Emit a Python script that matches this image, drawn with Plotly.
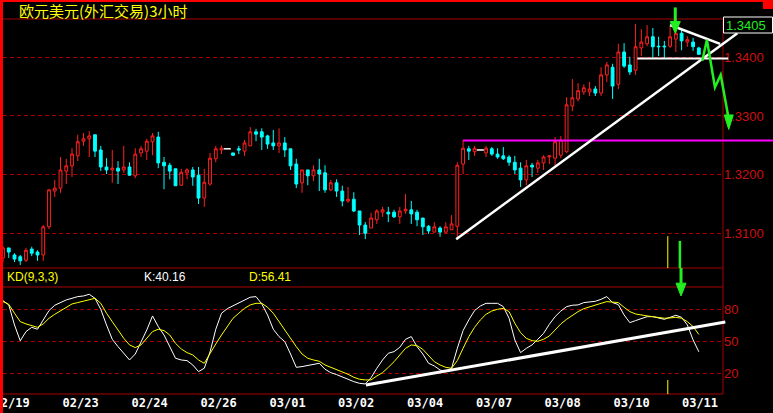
import plotly.graph_objects as go

W, H = 773, 413

# ---------------- data ----------------
date_labels = ["02/19", "02/23", "02/24", "02/26", "03/01", "03/02",
               "03/04", "03/07", "03/08", "03/10", "03/11"]
date_label_pos = [1.5, 13.5, 25.5, 37.5, 49.5, 61.4, 73.4, 85.4, 97.3, 109.3, 121.2]

open_ = [1.3058, 1.3075, 1.3063, 1.3060, 1.3054, 1.3073, 1.3068, 1.3063, 1.3111, 1.3172,
         1.3177, 1.3206, 1.3215, 1.3232, 1.3257, 1.3261, 1.3268, 1.3242, 1.3213, 1.3208,
         1.3211, 1.3208, 1.3213, 1.3198, 1.3237, 1.3240, 1.3256, 1.3264, 1.3221, 1.3216,
         1.3210, 1.3182, 1.3203, 1.3208, 1.3199, 1.3160, 1.3184, 1.3227, 1.3242, 1.3244,
         1.3237, 1.3244, 1.3240, 1.3249, 1.3273, 1.3273, 1.3266, 1.3254, 1.3249, 1.3254,
         1.3244, 1.3218, 1.3186, 1.3208, 1.3198, 1.3208, 1.3203, 1.3174, 1.3186, 1.3172,
         1.3155, 1.3158, 1.3138, 1.3114, 1.3109, 1.3123, 1.3136, 1.3136, 1.3136, 1.3128,
         1.3138, 1.3140, 1.3136, 1.3126, 1.3112, 1.3102, 1.3109, 1.3102, 1.3106, 1.3112,
         1.3218, 1.3244, 1.3239, 1.3242, 1.3237, 1.3244, 1.3235, 1.3232, 1.3230, 1.3221,
         1.3211, 1.3191, 1.3216, 1.3211, 1.3220, 1.3230, 1.3228, 1.3233, 1.3239, 1.3317,
         1.3329, 1.3341, 1.3341, 1.3346, 1.3339, 1.3370, 1.3383, 1.3354, 1.3409, 1.3387,
         1.3378, 1.3416, 1.3423, 1.3435, 1.3419, 1.3419, 1.3419, 1.3431, 1.3441, 1.3426,
         1.3426, 1.3416]
high = [1.3078, 1.3075, 1.3066, 1.3063, 1.3075, 1.3077, 1.3071, 1.3114, 1.3175, 1.3191,
        1.3230, 1.3227, 1.3245, 1.3268, 1.3271, 1.3274, 1.3268, 1.3249, 1.3228, 1.3242,
        1.3223, 1.3249, 1.3221, 1.3245, 1.3249, 1.3261, 1.3271, 1.3273, 1.3230, 1.3220,
        1.3210, 1.3210, 1.3211, 1.3213, 1.3213, 1.3210, 1.3237, 1.3249, 1.3250, 1.3245,
        1.3237, 1.3249, 1.3259, 1.3281, 1.3278, 1.3279, 1.3268, 1.3276, 1.3279, 1.3264,
        1.3244, 1.3227, 1.3208, 1.3208, 1.3216, 1.3227, 1.3216, 1.3191, 1.3192, 1.3181,
        1.3179, 1.3170, 1.3138, 1.3119, 1.3135, 1.3141, 1.3145, 1.3145, 1.3140, 1.3145,
        1.3167, 1.3155, 1.3140, 1.3126, 1.3114, 1.3119, 1.3112, 1.3119, 1.3131, 1.3221,
        1.3259, 1.3249, 1.3249, 1.3242, 1.3249, 1.3247, 1.3245, 1.3247, 1.3233, 1.3232,
        1.3221, 1.3225, 1.3220, 1.3225, 1.3233, 1.3233, 1.3264, 1.3266, 1.3332, 1.3363,
        1.3356, 1.3354, 1.3358, 1.3351, 1.3383, 1.3392, 1.3389, 1.3423, 1.3424, 1.3401,
        1.3457, 1.3448, 1.3455, 1.3450, 1.3435, 1.3428, 1.3453, 1.3458, 1.3448, 1.3436,
        1.3433, 1.3418]
low = [1.3051, 1.3058, 1.3051, 1.3046, 1.3051, 1.3061, 1.3053, 1.3053, 1.3107, 1.3162,
       1.3169, 1.3184, 1.3196, 1.3223, 1.3249, 1.3230, 1.3230, 1.3206, 1.3201, 1.3186,
       1.3184, 1.3203, 1.3198, 1.3194, 1.3230, 1.3225, 1.3233, 1.3211, 1.3175, 1.3192,
       1.3181, 1.3181, 1.3192, 1.3181, 1.3150, 1.3145, 1.3181, 1.3221, 1.3235, 1.3242,
       1.3232, 1.3235, 1.3232, 1.3249, 1.3257, 1.3242, 1.3244, 1.3242, 1.3237, 1.3230,
       1.3208, 1.3177, 1.3169, 1.3182, 1.3189, 1.3172, 1.3169, 1.3172, 1.3162, 1.3146,
       1.3152, 1.3136, 1.3097, 1.3090, 1.3109, 1.3116, 1.3128, 1.3119, 1.3126, 1.3116,
       1.3133, 1.3116, 1.3112, 1.3097, 1.3099, 1.3102, 1.3094, 1.3100, 1.3106, 1.3090,
       1.3201, 1.3225, 1.3232, 1.3242, 1.3230, 1.3232, 1.3227, 1.3225, 1.3215, 1.3201,
       1.3179, 1.3182, 1.3196, 1.3203, 1.3208, 1.3218, 1.3215, 1.3228, 1.3237, 1.3308,
       1.3325, 1.3336, 1.3334, 1.3334, 1.3334, 1.3358, 1.3329, 1.3346, 1.3382, 1.3370,
       1.3370, 1.3402, 1.3419, 1.3399, 1.3402, 1.3399, 1.3416, 1.3409, 1.3412, 1.3418,
       1.3411, 1.3404]
close = [1.3075, 1.3068, 1.3056, 1.3053, 1.3071, 1.3066, 1.3063, 1.3111, 1.3174, 1.3177,
         1.3208, 1.3215, 1.3235, 1.3256, 1.3261, 1.3266, 1.3240, 1.3213, 1.3208, 1.3211,
         1.3206, 1.3213, 1.3199, 1.3235, 1.3244, 1.3257, 1.3266, 1.3220, 1.3215, 1.3206,
         1.3181, 1.3204, 1.3208, 1.3196, 1.3160, 1.3187, 1.3228, 1.3244, 1.3245, 1.3244,
         1.3233, 1.3242, 1.3254, 1.3273, 1.3269, 1.3264, 1.3252, 1.3249, 1.3254, 1.3242,
         1.3215, 1.3184, 1.3208, 1.3198, 1.3208, 1.3201, 1.3174, 1.3186, 1.3172, 1.3155,
         1.3158, 1.3138, 1.3114, 1.3100, 1.3126, 1.3138, 1.3140, 1.3133, 1.3128, 1.3138,
         1.3141, 1.3133, 1.3123, 1.3111, 1.3104, 1.3111, 1.3102, 1.3111, 1.3116, 1.3216,
         1.3245, 1.3240, 1.3245, 1.3242, 1.3245, 1.3235, 1.3230, 1.3227, 1.3221, 1.3208,
         1.3191, 1.3215, 1.3213, 1.3220, 1.3230, 1.3232, 1.3256, 1.3259, 1.3319, 1.3331,
         1.3343, 1.3348, 1.3346, 1.3339, 1.3370, 1.3387, 1.3351, 1.3409, 1.3385, 1.3375,
         1.3418, 1.3426, 1.3435, 1.3418, 1.3418, 1.3418, 1.3435, 1.3441, 1.3428, 1.3430,
         1.3418, 1.3405]

k_values = [88.1, 84.1, 65.3, 50.5, 59.1, 63.1, 61.3, 70.6, 78.8, 83.8,
            86.3, 88.8, 90.3, 91.9, 92.5, 94.1, 90.3, 80.0, 65.3, 51.9,
            45.0, 38.8, 32.5, 38.1, 48.8, 60.6, 73.8, 63.8, 55.9, 45.0,
            34.1, 32.5, 31.9, 27.8, 21.6, 24.7, 40.0, 61.3, 76.3, 80.6,
            83.1, 85.6, 88.8, 91.3, 91.9, 85.0, 74.7, 61.3, 54.4, 49.7,
            38.1, 25.6, 26.3, 27.2, 28.8, 29.4, 23.8, 20.6, 18.8, 16.9,
            14.4, 12.2, 10.6, 10.0, 15.9, 24.7, 32.5, 38.8, 40.3, 44.4,
            51.9, 54.4, 45.0, 38.1, 29.4, 26.9, 23.1, 21.6, 24.7, 43.4,
            60.0, 70.0, 78.8, 83.1, 85.6, 85.6, 85.6, 82.5, 71.6, 51.3,
            39.4, 43.4, 46.6, 51.9, 57.5, 65.9, 73.1, 78.4, 82.5, 83.8,
            84.1, 86.3, 87.2, 87.5, 89.4, 91.9, 86.3, 84.4, 74.7, 67.5,
            69.4, 71.6, 73.1, 73.1, 71.9, 70.6, 72.5, 74.4, 72.5, 65.3,
            51.3, 40.16]
d_values = [87.2, 84.7, 76.3, 68.4, 66.3, 64.7, 63.1, 66.3, 71.6, 75.3,
            78.8, 81.9, 85.0, 86.3, 87.5, 89.4, 90.3, 85.6, 76.3, 68.4,
            60.0, 52.8, 46.6, 44.1, 46.6, 52.8, 59.1, 61.3, 60.0, 55.9,
            48.1, 42.8, 39.4, 37.2, 32.5, 29.4, 38.8, 47.5, 55.9, 64.4,
            71.6, 76.3, 80.9, 84.1, 85.6, 85.6, 81.9, 76.3, 68.4, 60.6,
            52.8, 45.0, 38.1, 34.1, 32.5, 31.3, 27.8, 25.6, 23.8, 21.6,
            19.1, 16.3, 14.4, 13.8, 13.8, 17.5, 20.6, 25.6, 30.9, 37.2,
            43.4, 46.6, 45.9, 42.5, 36.3, 30.9, 27.8, 25.6, 24.7, 31.9,
            43.4, 54.4, 63.1, 70.0, 75.3, 78.4, 80.0, 80.9, 77.8, 66.9,
            58.1, 52.8, 50.6, 50.0, 51.9, 55.0, 60.6, 66.3, 70.6, 74.4,
            77.8, 80.6, 82.5, 83.8, 85.6, 87.2, 86.9, 86.3, 81.9, 77.8,
            75.6, 74.4, 73.8, 73.1, 72.5, 71.6, 71.9, 72.5, 71.6, 68.4,
            63.8, 56.41]

price_ticks = [1.31, 1.32, 1.33, 1.34]
price_tick_text = ["1.3100", "1.3200", "1.3300", "1.3400"]
kd_ticks = [20, 50, 80]
kd_tick_text = ["20", "50", "80"]

title_text = "欧元美元(外汇交易)3小时"
kd_label = "KD(9,3,3)"
k_label = "K:40.16"
d_label = "D:56.41"
last_price_text = "1.3405"

# hand-drawn analysis lines (bar index, value)
trend_up = ([78.8, 127.7], [1.3090, 1.3441])
support_line = ([110.3, 126.1], [1.3398, 1.3398])
trend_down = ([116.0, 124.7], [1.3455, 1.3423])
magenta_line = ([80.0, 134.5], [1.3258, 1.3258])
zigzag = ([121.6, 122.4, 123.8, 124.8, 126.1], [1.3394, 1.3430, 1.3349, 1.3370, 1.3300])
zigzag_tip = (126.2, 1.3277)
top_arrow = ([116.9, 116.9], [1.3485, 1.3461])
top_arrow_tip = (116.9, 1.3441)
kd_arrow = ([117.9, 117.9], [118.7, 104.5])
kd_arrow_tip = (117.9, 92.5)
kd_trend = ([63.1, 125.6], [9.0, 68.1])
marker_yellow = (115.6, [1.3095, 13.7])
marker_green = (117.7, 1.3087)

# ---------------- geometry ----------------
PX_L, PX_R = 3, 723
P_TOP, P_BOT = 19, 268
K_TOP, K_BOT = 287, 394
XR = [0, 125.2]
PR = [1.30408, 1.34653]
KR = [0.6, 100.9]

def px_x(i):
    return PX_L + (i - XR[0]) / (XR[1] - XR[0]) * (PX_R - PX_L)

def py_p(p):
    return P_BOT - (p - PR[0]) / (PR[1] - PR[0]) * (P_BOT - P_TOP)

def py_k(v):
    return K_BOT - (v - KR[0]) / (KR[1] - KR[0]) * (K_BOT - K_TOP)

def fx(px):
    return px / W

def fy(py):
    return 1 - py / H

RED = "#ff2020"
CYAN = "#00ffff"
DKRED = "#a80000"
GREEN = "#22ee22"
YELLOW = "#ffff00"

fig = go.Figure()

idx = list(range(len(close)))
normal = [i for i in idx if open_[i] != close[i]]
doji = [i for i in idx if open_[i] == close[i]]

fig.add_trace(go.Candlestick(
    x=normal,
    open=[open_[i] for i in normal], high=[high[i] for i in normal],
    low=[low[i] for i in normal], close=[close[i] for i in normal],
    increasing=dict(line=dict(color=RED, width=1), fillcolor="#000000"),
    decreasing=dict(line=dict(color=CYAN, width=1), fillcolor=CYAN),
    whiskerwidth=0, hoverinfo="skip", xaxis="x", yaxis="y", showlegend=False))

fig.add_trace(go.Scatter(
    x=doji, y=[close[i] for i in doji], mode="markers",
    marker=dict(symbol="line-ew", size=5, line=dict(color="white", width=1.5)),
    hoverinfo="skip", xaxis="x", yaxis="y", showlegend=False))

fig.add_trace(go.Scatter(x=idx, y=k_values, mode="lines",
                         line=dict(color="white", width=1),
                         hoverinfo="skip", xaxis="x2", yaxis="y2", showlegend=False))
fig.add_trace(go.Scatter(x=idx, y=d_values, mode="lines",
                         line=dict(color=YELLOW, width=1),
                         hoverinfo="skip", xaxis="x2", yaxis="y2", showlegend=False))

shapes = []

def pline(x0, y0, x1, y1, color, width):
    shapes.append(dict(type="line", xref="paper", yref="paper",
                       x0=fx(x0), y0=fy(y0), x1=fx(x1), y1=fy(y1),
                       line=dict(color=color, width=width)))

def ppath(points, color, width, fill=None):
    d = "M " + " L ".join(f"{fx(a):.5f},{fy(b):.5f}" for a, b in points)
    s = dict(type="path", xref="paper", yref="paper", path=d + (" Z" if fill else ""),
             line=dict(color=color, width=width))
    if fill:
        s["fillcolor"] = fill
    shapes.append(s)

# frame
pline(PX_L, P_TOP, PX_R, P_TOP, DKRED, 1)
pline(PX_L, P_BOT, PX_R, P_BOT, DKRED, 1)
pline(PX_L, K_TOP, PX_R, K_TOP, DKRED, 1)
pline(PX_L, K_BOT, PX_R, K_BOT, DKRED, 1)
pline(PX_R, P_TOP, PX_R, K_BOT, DKRED, 1)

# markers
mx = px_x(marker_yellow[0])
pline(mx, py_p(marker_yellow[1][0]), mx, P_BOT, YELLOW, 1)
pline(mx, py_k(marker_yellow[1][1]), mx, K_BOT, YELLOW, 1)
gx = px_x(marker_green[0])
pline(gx, py_p(marker_green[1]), gx, P_BOT, GREEN, 2.5)

# analysis lines
ppath([(px_x(a), py_p(b)) for a, b in zip(*magenta_line)], "#ff00ff", 2)
ppath([(px_x(a), py_p(b)) for a, b in zip(*trend_up)], "white", 2.5)
ppath([(px_x(a), py_p(b)) for a, b in zip(*support_line)], "white", 2)
ppath([(px_x(a), py_p(b)) for a, b in zip(*trend_down)], "white", 2.5)
ppath([(px_x(a), py_k(b)) for a, b in zip(*kd_trend)], "white", 3)

# green arrows
ppath([(px_x(a), py_p(b)) for a, b in zip(*zigzag)], GREEN, 2.5)
tx, ty = px_x(zigzag_tip[0]), py_p(zigzag_tip[1])
by = py_p(zigzag[1][-1])
ppath([(tx - 4.5, by - 1), (tx + 4.5, by - 1), (tx, ty)], GREEN, 1, GREEN)

ppath([(px_x(a), py_p(b)) for a, b in zip(*top_arrow)], GREEN, 3)
tx, ty = px_x(top_arrow_tip[0]), py_p(top_arrow_tip[1])
by = py_p(top_arrow[1][-1])
ppath([(tx - 5, by), (tx + 5, by), (tx, ty)], GREEN, 1, GREEN)

ppath([(px_x(a), py_k(b)) for a, b in zip(*kd_arrow)], GREEN, 3)
tx, ty = px_x(kd_arrow_tip[0]), py_k(kd_arrow_tip[1])
by = py_k(kd_arrow[1][-1])
ppath([(tx - 5, by), (tx + 5, by), (tx, ty)], GREEN, 1, GREEN)

# last price box
shapes.append(dict(type="rect", xref="paper", yref="paper",
                   x0=fx(723.5), x1=fx(772.5), y0=fy(17), y1=fy(33),
                   line=dict(color="white", width=1), fillcolor="black"))
# red borders
shapes.append(dict(type="rect", xref="paper", yref="paper", x0=0, x1=fx(3), y0=0, y1=1,
                   line=dict(width=0), fillcolor="#ff0000"))
shapes.append(dict(type="rect", xref="paper", yref="paper", x0=0, x1=1, y0=fy(2), y1=1,
                   line=dict(width=0), fillcolor="#ff0000"))
shapes.append(dict(type="rect", xref="paper", yref="paper", x0=fx(763), x1=1, y0=fy(9), y1=1,
                   line=dict(width=0), fillcolor="#ff0000"))

SANS = "Liberation Sans, Arial"
annotations = [
    dict(text=title_text, x=fx(17), y=fy(10.5), xref="paper", yref="paper",
         xanchor="left", yanchor="middle", showarrow=False,
         font=dict(family="Noto Sans CJK SC", size=15, color=YELLOW)),
    dict(text=kd_label, x=fx(5), y=fy(277), xref="paper", yref="paper",
         xanchor="left", yanchor="middle", showarrow=False,
         font=dict(family=SANS, size=12, color=YELLOW)),
    dict(text=k_label, x=fx(142), y=fy(277), xref="paper", yref="paper",
         xanchor="left", yanchor="middle", showarrow=False,
         font=dict(family=SANS, size=12, color="white")),
    dict(text=d_label, x=fx(247), y=fy(277), xref="paper", yref="paper",
         xanchor="left", yanchor="middle", showarrow=False,
         font=dict(family=SANS, size=12, color=YELLOW)),
    dict(text=last_price_text, x=fx(746), y=fy(25.5), xref="paper", yref="paper",
         xanchor="center", yanchor="middle", showarrow=False,
         font=dict(family=SANS, size=13, color=GREEN)),
]

xdom = [fx(PX_L), fx(PX_R)]
fig.update_layout(
    width=W, height=H,
    margin=dict(l=0, r=0, t=0, b=0, autoexpand=False),
    paper_bgcolor="black", plot_bgcolor="black",
    showlegend=False, hovermode=False,
    boxgap=0.3,
    xaxis=dict(domain=xdom, range=XR, type="linear", anchor="y", automargin=False,
               showgrid=False, zeroline=False, showticklabels=False, showline=False,
               rangeslider=dict(visible=False), fixedrange=True),
    yaxis=dict(domain=[fy(P_BOT), fy(P_TOP)], range=PR, anchor="x", side="right",
               automargin=False,
               tickvals=price_ticks, ticktext=price_tick_text,
               showgrid=True, gridcolor=DKRED, griddash="4px,3px", gridwidth=1,
               zeroline=False, showline=False, ticks="", ticklabeloverflow="allow",
               tickfont=dict(family=SANS, size=13, color="#cc1010")),
    xaxis2=dict(domain=xdom, range=XR, type="linear", anchor="y2", automargin=False,
                tickvals=date_label_pos, ticktext=date_labels, ticks="",
                showgrid=False, zeroline=False, showline=False, ticklabeloverflow="allow",
                tickfont=dict(family="DejaVu Sans Mono", size=12, color="white", weight="bold")),
    yaxis2=dict(domain=[fy(K_BOT), fy(K_TOP)], range=KR, anchor="x2", side="right",
                automargin=False,
                tickvals=kd_ticks, ticktext=kd_tick_text,
                showgrid=True, gridcolor=DKRED, griddash="4px,3px", gridwidth=1,
                zeroline=False, showline=False, ticks="", ticklabeloverflow="allow",
                tickfont=dict(family=SANS, size=13, color="#cc1010")),
    shapes=shapes,
    annotations=annotations,
)

fig.write_html("out.html", config={"displayModeBar": False},
               post_script="document.body.style.margin='0px';document.body.style.overflow='hidden';")
